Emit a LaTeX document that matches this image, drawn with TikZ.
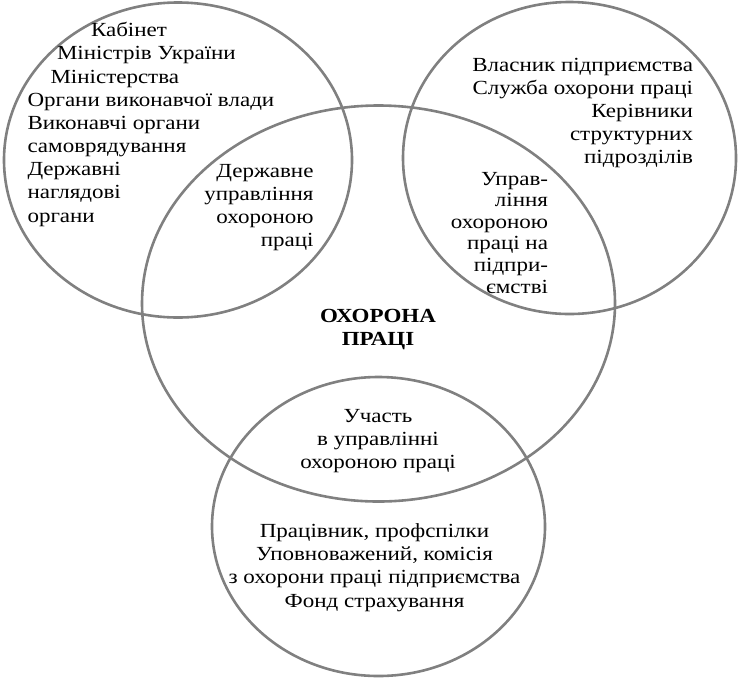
\documentclass[tikz,border=0pt]{standalone}
\usepackage{fontspec}
\setmainfont[FakeStretch=1.15]{Liberation Serif}
\usetikzlibrary{shapes.geometric}
\definecolor{ringgray}{RGB}{128,128,128}
\tikzset{
  ring/.style={ellipse, draw=ringgray, line width=2.6pt, inner sep=0pt, outer sep=0pt},
  txt/.style={inner sep=0pt, outer sep=0pt, font=\fontsize{20}{23}\selectfont},
  bold/.style={txt, font=\fontsize{20}{23}\selectfont\bfseries},
}
\begin{document}
\begin{tikzpicture}[x=1pt,y=-1pt]
\useasboundingbox (0,0) rectangle (738,678);
% rings
\node[ring, minimum width=348pt, minimum height=315pt] (gov) at (178,160) {};
\node[ring, minimum width=333pt, minimum height=312pt] (ent) at (569.5,158) {};
\node[ring, minimum width=473pt, minimum height=396pt] (main) at (378.5,303.5) {};
\node[ring, minimum width=333pt, minimum height=299pt] (wrk) at (378.5,526.5) {};
% top-left block
\node[txt, anchor=base west] (tl1) at (91,36.5) {Кабінет};
\node[txt, anchor=base west] (tl2) at (57,59.8) {Міністрів України};
\node[txt, anchor=base west] (tl3) at (50.5,83) {Міністерства};
\foreach \t [count=\i] in {Органи виконавчої влади, Виконавчі органи, самоврядування, Державні, наглядові, органи}
  \node[txt, anchor=base west] (tlb\i) at (27.5,{106+23.2*(\i-1)}) {\t};
% state management
\foreach \t [count=\i] in {Державне, управління, охороною, праці}
  \node[txt, anchor=base east] (sm\i) at (313.5,{177+23*(\i-1)}) {\t};
% top-right block
\foreach \t [count=\i] in {Власник підприємства, Служба охорони праці, Керівники, структурних, підрозділів}
  \node[txt, anchor=base east] (tr\i) at (693,{71.7+23*(\i-1)}) {\t};
% enterprise management
\foreach \t [count=\i] in {Управ-, ління, охороною, праці на, підпри-, ємстві}
  \node[txt, anchor=base east] (em\i) at (548,{185+21.6*(\i-1)}) {\t};
% centre
\node[bold, anchor=base] (c1) at (378,322) {ОХОРОНА};
\node[bold, anchor=base] (c2) at (378,345) {ПРАЦІ};
% participation
\foreach \t [count=\i] in {Участь, в управлінні, охороною праці}
  \node[txt, anchor=base] (pa\i) at (378,{422+23*(\i-1)}) {\t};
% workers
\foreach \t [count=\i] in {{Працівник, профспілки}, {Уповноважений, комісія}, з охорони праці підприємства, Фонд страхування}
  \node[txt, anchor=base] (wk\i) at (374.5,{537+23.4*(\i-1)}) {\t};
\end{tikzpicture}
\end{document}
